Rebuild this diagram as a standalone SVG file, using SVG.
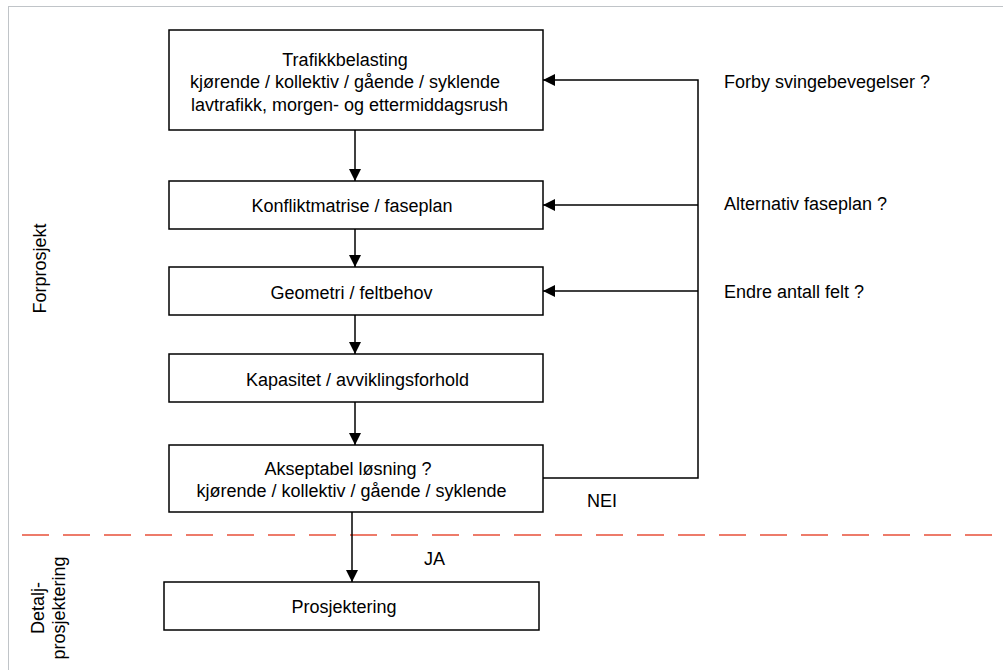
<svg xmlns="http://www.w3.org/2000/svg" width="1003" height="670" viewBox="0 0 1003 670">
<style>
.box{fill:#fff;stroke:#000;stroke-width:1.5}
.t{font-family:"Liberation Sans",Arial,sans-serif;font-size:18px;fill:#000}
.c{text-anchor:middle}
.ln{fill:none;stroke:#000;stroke-width:1.5}
</style>
<defs>
<marker id="ah" markerWidth="12" markerHeight="12" refX="12" refY="6" orient="auto" markerUnits="userSpaceOnUse">
<path d="M0,0 L12,6 L0,12 Z" fill="#000"/>
</marker>
</defs>
<rect x="0" y="0" width="1003" height="670" fill="#fff"/>
<rect x="8.5" y="6.5" width="1010" height="680" fill="none" stroke="#c0c4c8" stroke-width="1"/>
<line x1="22" y1="535" x2="1003" y2="535" stroke="#e8503a" stroke-width="1.5" stroke-dasharray="27,14"/>
<g id="n1"><rect class="box" x="169" y="30" width="374" height="100"/>
<text class="t c" x="345" y="66">Trafikkbelasting</text>
<text class="t c" x="345" y="88">kjørende / kollektiv / gående / syklende</text>
<text class="t c" x="349.5" y="110.5">lavtrafikk, morgen- og ettermiddagsrush</text></g>
<g id="n2"><rect class="box" x="169" y="181" width="374" height="48"/>
<text class="t c" x="352" y="212">Konfliktmatrise / faseplan</text></g>
<g id="n3"><rect class="box" x="169" y="267" width="374" height="48"/>
<text class="t c" x="351.5" y="299">Geometri / feltbehov</text></g>
<g id="n4"><rect class="box" x="169" y="354" width="374" height="48"/>
<text class="t c" x="357.5" y="385.5">Kapasitet / avviklingsforhold</text></g>
<g id="n5"><rect class="box" x="169" y="445" width="374" height="67"/>
<text class="t c" x="348" y="475">Akseptabel løsning ?</text>
<text class="t c" x="351.5" y="496.5">kjørende / kollektiv / gående / syklende</text></g>
<g id="n6"><rect class="box" x="164" y="582" width="375" height="48"/>
<text class="t c" x="344" y="613">Prosjektering</text></g>
<g id="connectors">
<line class="ln" x1="355" y1="130" x2="355" y2="181" marker-end="url(#ah)"/>
<line class="ln" x1="355" y1="229" x2="355" y2="267" marker-end="url(#ah)"/>
<line class="ln" x1="355" y1="315" x2="355" y2="354" marker-end="url(#ah)"/>
<line class="ln" x1="355" y1="402" x2="355" y2="445" marker-end="url(#ah)"/>
<line class="ln" x1="352" y1="512" x2="352" y2="582" marker-end="url(#ah)"/>
<polyline class="ln" points="543,478 698,478 698,80 543,80" marker-end="url(#ah)"/>
<line class="ln" x1="698" y1="205" x2="543" y2="205" marker-end="url(#ah)"/>
<line class="ln" x1="698" y1="291" x2="543" y2="291" marker-end="url(#ah)"/>
</g>
<text class="t" x="724" y="88">Forby svingebevegelser ?</text>
<text class="t" x="724" y="209.5">Alternativ faseplan ?</text>
<text class="t" x="724" y="297.5">Endre antall felt ?</text>
<text class="t" x="587" y="507">NEI</text>
<text class="t" x="424" y="565">JA</text>
<text class="t c" transform="translate(46,268.5) rotate(-90)">Forprosjekt</text>
<text class="t c" transform="translate(44,608) rotate(-90)">Detalj-</text>
<text class="t c" transform="translate(65,608) rotate(-90)">prosjektering</text>
</svg>
